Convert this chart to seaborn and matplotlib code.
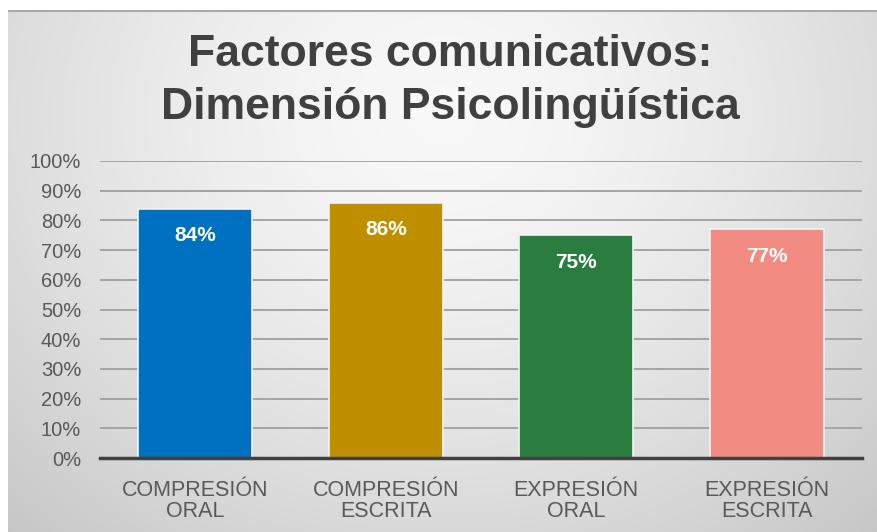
import numpy as np
import pandas as pd
import matplotlib
matplotlib.use("Agg")
import matplotlib.pyplot as plt
import seaborn as sns
from matplotlib.ticker import PercentFormatter

# datos
categorias = ["COMPRESIÓN\nORAL", "COMPRESIÓN\nESCRITA", "EXPRESIÓN\nORAL", "EXPRESIÓN\nESCRITA"]
valores = [0.84, 0.86, 0.75, 0.77]
colores = ["#0070C0", "#BF8F00", "#2A7D3E", "#F28B82"]
titulo = ["Factores comunicativos:", "Dimensión Psicolingüística"]

sns.set_style("white")
plt.rcParams['font.family'] = ['Liberation Sans', 'DejaVu Sans']

fig = plt.figure(figsize=(8.77, 5.32), dpi=100)
fig.patch.set_facecolor("white")

# fondo degradado radial
bg = fig.add_axes([8/877, 0, 869/877, 522/532])
yy, xx = np.mgrid[0:1:300j, 0:1:500j]
r = np.sqrt(((xx - 0.5) / 0.75) ** 2 + ((yy - 0.2) / 1.1) ** 2)
r = np.clip(r, 0, 1)
bright = 0.975 - 0.2 * r ** 1.5
bg.imshow(np.dstack([bright] * 3), aspect="auto", extent=[0, 1, 1, 0])
bg.axhline(0.002, color="#AAAAAA", lw=1.5)
bg.set_axis_off()

ax = fig.add_axes([100/877, (532-458)/532, 762/877, 297/532])
ax.patch.set_alpha(0)

df = pd.DataFrame({"cat": categorias, "val": valores})
sns.barplot(data=df, x="cat", y="val", hue="cat", palette=colores, legend=False,
            saturation=1, width=0.6, edgecolor="#F0F4F8", linewidth=1.2, ax=ax, zorder=3)

ax.set_ylim(0, 1.0)
ax.set_xlim(-0.5, 3.5)
ax.yaxis.set_major_formatter(PercentFormatter(1.0, decimals=0))
ax.set_yticks(np.arange(0, 1.01, 0.1))
ax.grid(axis="y", color="#A4A4A4", lw=1.4, zorder=0)
ax.set_axisbelow(True)
for s in ["top", "right", "left"]:
    ax.spines[s].set_visible(False)
ax.spines["bottom"].set_color("#404040")
ax.spines["bottom"].set_linewidth(2.5)
ax.spines["bottom"].set_zorder(4)
ax.tick_params(axis="y", length=0, pad=13.5, labelsize=14.5, labelcolor="#595959")
ax.tick_params(axis="x", length=0, pad=15.5, labelsize=15.5, labelcolor="#595959")
for t in ax.get_xticklabels():
    t.set_linespacing(1.0)
ax.set_xlabel("")
ax.set_ylabel("")

for i, v in enumerate(valores):
    ax.text(i, v - 0.092, f"{round(v*100)}%", ha="center", va="center",
            color="white", fontsize=15, fontweight="bold", zorder=5)

fig.text(450/877, 1 - 55/532, titulo[0], ha="center", va="center", fontsize=32,
         fontweight="bold", color="#404040")
fig.text(450/877, 1 - 108/532, titulo[1], ha="center", va="center", fontsize=32,
         fontweight="bold", color="#404040")

fig.savefig("out.png", dpi=100)
